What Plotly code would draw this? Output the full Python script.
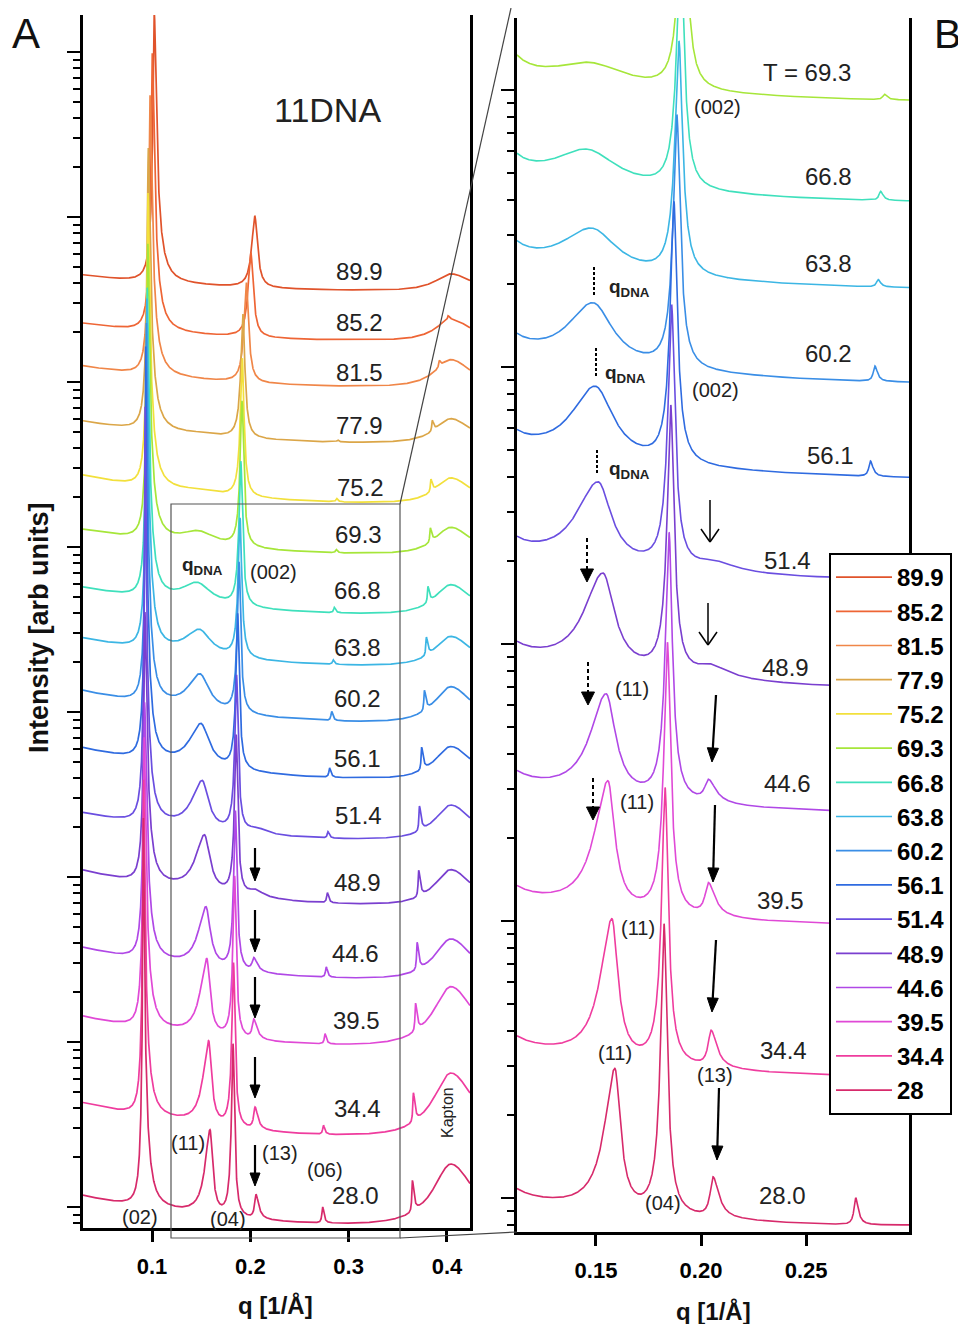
import numpy as np
import plotly.graph_objects as go

# page body has an 8px margin: the figure is placed at (8, 8) in the window
OFF = 8
W, H = 958, 1316
def px(x):
    return (x - OFF) / W
def py(y):
    return 1 - (y - OFF) / H

# ---------------- data ----------------
temps = ["89.9", "85.2", "81.5", "77.9", "75.2", "69.3", "66.8", "63.8",
         "60.2", "56.1", "51.4", "48.9", "44.6", "39.5", "34.4", "28.0"]
legend_names = ["89.9", "85.2", "81.5", "77.9", "75.2", "69.3", "66.8", "63.8",
                "60.2", "56.1", "51.4", "48.9", "44.6", "39.5", "34.4", "28"]
colors = ["#e0532b", "#ee6535", "#f08648", "#dba648", "#f2e03c", "#a6e63a",
          "#3fe0bc", "#3cb6e4", "#3a8ee6", "#2f6be0", "#6a4ee0", "#7a3fcf",
          "#b048e6", "#e049d6", "#ef3c9e", "#d72a6b"]
# log10 of the flat baseline level near q = 0.30
baseline_log = [5.558, 5.255, 4.976, 4.636, 4.273, 3.964, 3.600, 3.287,
                2.946, 2.602, 2.234, 1.840, 1.390, 0.988, 0.440, -0.097]
# excess scattering at low q (relative to baseline)
lowq_excess = [0.28, 0.32, 0.40, 0.42, 0.56, 0.48, 0.54, 0.56,
               0.67, 0.65, 0.54, 0.75, 0.67, 0.63, 0.75, 0.63]
# lamellar (002)/(04) position; (001)/(02) = half, (003)/(06) = 1.5x, (004) = 2x
q_002 = [0.2045, 0.2005, 0.1960, 0.1925, 0.1918, 0.1915, 0.1903, 0.1895,
         0.1885, 0.1871, 0.1860, 0.1856, 0.1848, 0.1840, 0.1829, 0.1824]
amp_001 = [50, 56, 60, 63, 79, 79, 100, 178, 282, 447, 447, 63, 50, 79, 158, 316]
amp_002 = [1.85, 2.45, 3.37, 5.2, 6.84, 7.8, 7.8, 7.2, 8.9, 9.6, 9.4, 10.4,
           10.1, 10.4, 11.2, 12.4]
amp_003 = [0, 0, 0, 0.03, 0.05, 0.05, 0.085, 0.07, 0.15, 0.15, 0.10, 0.17,
           0.17, 0.17, 0.15, 0.28]
amp_004 = [0, 0.08, 0.14, 0.20, 0.24, 0.28, 0.32, 0.36, 0.42, 0.46, 0.50,
           0.54, 0.58, 0.64, 0.68, 0.72]
# q_DNA / (11) peak
q_11 = [0.150, 0.150, 0.150, 0.148, 0.147, 0.147, 0.1457, 0.148,
        0.1486, 0.1496, 0.151, 0.1533, 0.1548, 0.1557, 0.1576, 0.159]
amp_11 = [0, 0, 0, 0.03, 0.05, 0.25, 0.42, 0.53, 0.84, 1.06, 1.2, 1.58,
          1.69, 2.41, 2.88, 2.83]
hw_11_left = [0.02, 0.02, 0.02, 0.02, 0.02, 0.02, 0.018, 0.016,
              0.013, 0.012, 0.0107, 0.009, 0.0075, 0.006, 0.005, 0.0045]
hw_11_right = [0.02, 0.02, 0.02, 0.02, 0.02, 0.02, 0.016, 0.013,
               0.010, 0.009, 0.0065, 0.0055, 0.0045, 0.003, 0.0026, 0.0024]
# (13) peak
q_13 = [0.205, 0.205, 0.205, 0.205, 0.205, 0.205, 0.205, 0.205,
        0.205, 0.205, 0.2065, 0.2045, 0.2035, 0.2035, 0.2048, 0.2057]
amp_13 = [0, 0, 0, 0, 0, 0, 0, 0, 0, 0, 0.09, 0.12, 0.24, 0.37, 0.43, 0.47]
hw_13_left = [0.002] * 10 + [0.010, 0.007, 0.002, 0.0018, 0.0016, 0.0015]
hw_13_right = [0.004] * 10 + [0.012, 0.010, 0.004, 0.0035, 0.003, 0.003]
# Kapton window bump
amp_kapton = [0.29, 0.38, 0.51, 0.45, 0.48, 0.51, 0.58, 0.58, 0.74, 0.66,
              0.70, 0.74, 0.86, 1.45, 1.63, 1.51]
q_kapton = 0.404

# peak tail constants (amp * hw^2) and shared widths
TAIL_001 = (2.5e-5, 7e-5)
TAIL_002 = (1.5e-5, 1.2e-5)
HW_003 = (0.0009, 0.0014)
HW_004 = (0.0006, 0.0016)
HW_KAPTON = (0.018, 0.024)
LOWQ_DECAY = 0.12


def lor(q, q0, amp, gl, gr):
    g = np.where(q < q0, gl, gr)
    return amp / (1.0 + ((q - q0) / g) ** 2)


def profile(q, i):
    p = 1.0 + lowq_excess[i] * np.exp(-(q - 0.03) / LOWQ_DECAY)
    q1 = q_002[i] / 2
    a1 = amp_001[i]
    p = p + lor(q, q1, a1, np.sqrt(TAIL_001[0] / a1), np.sqrt(TAIL_001[1] / a1))
    a2 = amp_002[i]
    p = p + lor(q, 2 * q1, a2, np.sqrt(TAIL_002[0] / a2), np.sqrt(TAIL_002[1] / a2))
    p = p + lor(q, 3 * q1, amp_003[i], *HW_003)
    p = p + lor(q, 4 * q1, amp_004[i], *HW_004)
    p = p + lor(q, q_11[i], amp_11[i], hw_11_left[i], hw_11_right[i])
    p = p + lor(q, q_13[i], amp_13[i], hw_13_left[i], hw_13_right[i])
    p = p + lor(q, q_kapton, amp_kapton[i], *HW_KAPTON)
    return p


def curve(q, i):
    ref = profile(np.array([0.30]), i)[0]
    return 10 ** baseline_log[i] * profile(q, i) / ref


def grid(lo, hi, n, i):
    q1 = q_002[i] / 2
    centers = [q1, 2 * q1, 3 * q1, 4 * q1, q_11[i], q_13[i]]
    return np.union1d(np.linspace(lo, hi, n), [c for c in centers if lo < c < hi])

XA = (0.0298, 0.4234)
XB = (0.1124, 0.2990)

fig = go.Figure()
for i in range(len(temps)):
    qa = grid(XA[0], XA[1], 5000, i)
    fig.add_trace(go.Scatter(x=qa, y=curve(qa, i), mode="lines",
                             line=dict(color=colors[i], width=1.7),
                             name=legend_names[i], xaxis="x", yaxis="y",
                             showlegend=True))
for i in range(5, len(temps)):
    qb = grid(XB[0], XB[1], 4000, i)
    fig.add_trace(go.Scatter(x=qb, y=curve(qb, i), mode="lines",
                             line=dict(color=colors[i], width=1.6),
                             name=legend_names[i], xaxis="x2", yaxis="y2",
                             showlegend=False))

FONT = "Arial, Liberation Sans, Helvetica, sans-serif"
axis_common = dict(showgrid=False, zeroline=False, showline=True, linecolor="black",
                   linewidth=2.5, ticks="outside", tickcolor="black")

fig.update_layout(
    width=W, height=H, margin=dict(l=0, r=0, t=0, b=0),
    paper_bgcolor="white", plot_bgcolor="white",
    font=dict(family=FONT, color="black"),
    xaxis=dict(domain=[px(83), px(470)], range=list(XA), anchor="y",
               tickvals=[0.1, 0.2, 0.3, 0.4], ticktext=["0.1", "0.2", "0.3", "0.4"],
               ticklen=11, tickwidth=2.5, mirror=False,
               tickfont=dict(size=22, weight="bold"), ticklabelstandoff=6,
               **axis_common),
    yaxis=dict(domain=[py(1228), py(15)], type="log", range=[-0.127, 7.224],
               anchor="x", dtick=1, ticklen=13, tickwidth=2.2, showticklabels=False,
               mirror=True,
               minor=dict(ticks="outside", ticklen=7, tickwidth=1.6, tickcolor="black",
                          showgrid=False),
               **axis_common),
    xaxis2=dict(domain=[px(517), px(909)], range=list(XB), anchor="y2",
                tickvals=[0.15, 0.2, 0.25], ticktext=["0.15", "0.20", "0.25"],
                ticklen=11, tickwidth=2.5, mirror=False,
                tickfont=dict(size=22, weight="bold"), ticklabelstandoff=6,
                **axis_common),
    yaxis2=dict(domain=[py(1232), py(18)], type="log", range=[-0.1227, 4.26],
                anchor="x2", dtick=1, ticklen=13, tickwidth=2.2, showticklabels=False,
                mirror=True,
                minor=dict(ticks="outside", ticklen=7, tickwidth=1.6, tickcolor="black",
                           showgrid=False),
                **axis_common),
    legend=dict(x=px(829), y=py(553), xanchor="left", yanchor="top",
                bgcolor="white", bordercolor="black", borderwidth=2,
                font=dict(size=24, family=FONT, color="black", weight="bold"),
                itemwidth=56, tracegroupgap=0),
)

ann = []
def text(x, y, s, size=24, color="#222", xanchor="center", bold=False, angle=0):
    ann.append(dict(x=px(x), y=py(y), xref="paper", yref="paper", text=s,
                    showarrow=False, xanchor=xanchor, yanchor="middle",
                    textangle=angle,
                    font=dict(size=size, color=color, family=FONT,
                              weight="bold" if bold else "normal")))

# panel letters, titles
text(26, 34, "A", size=42, color="#111")
text(947, 34, "B", size=41, color="#111")
text(327, 110, "11DNA", size=34, color="#222")
text(39, 628, "Intensity [arb units]", size=27, color="#111", bold=True, angle=-90)
text(275, 1305, "q [1/Å]", size=24, color="#111", bold=True)
text(713, 1311, "q [1/Å]", size=24, color="#111", bold=True)

# panel A temperature labels
a_lab = [(359, 272), (359, 322), (359, 372), (359, 425), (360, 487), (358, 535),
         (357, 590), (357, 647), (357, 698), (357, 758), (358, 815), (357, 882),
         (355, 953), (356, 1020), (357, 1108), (355, 1195)]
for t, (x, y) in zip(temps, a_lab):
    text(x, y, t, size=24)

text(202, 566, "<b>q<sub>DNA</sub></b>", size=19)
text(273, 572, "(002)", size=20)
text(188, 1143, "(11)", size=20)
text(280, 1153, "(13)", size=20)
text(325, 1170, "(06)", size=20)
text(140, 1217, "(02)", size=20)
text(228, 1219, "(04)", size=20)
text(447, 1113, "Kapton", size=16, angle=-90)

# panel B labels
text(807, 72, "T = 69.3", size=24)
text(717, 107, "(002)", size=20)
text(715, 390, "(002)", size=20)
b_lab = [("66.8", 828, 177), ("63.8", 828, 263), ("60.2", 828, 353), ("56.1", 830, 455),
         ("51.4", 787, 560), ("48.9", 785, 667), ("44.6", 787, 783), ("39.5", 780, 900),
         ("34.4", 783, 1050), ("28.0", 782, 1195)]
for t, x, y in b_lab:
    text(x, y, t, size=24)
for (x, y) in [(632, 689), (637, 802), (638, 928), (615, 1053)]:
    text(x, y, "(11)", size=20)
text(715, 1075, "(13)", size=20)
text(663, 1203, "(04)", size=20)
for (x, y) in [(607, 288), (603, 374), (607, 470)]:
    text(x, y, "<b>q<sub>DNA</sub></b>", size=19, xanchor="left")

shapes = []
def seg(x0, y0, x1, y1, width=1.2, color="#444", dash="solid"):
    shapes.append(dict(type="line", xref="paper", yref="paper", x0=px(x0), y0=py(y0),
                       x1=px(x1), y1=py(y1), line=dict(color=color, width=width, dash=dash)))

def tri(p1, p2, p3):
    shapes.append(dict(type="path", xref="paper", yref="paper",
                       path="M {:.5f},{:.5f} L {:.5f},{:.5f} L {:.5f},{:.5f} Z".format(
                           px(p1[0]), py(p1[1]), px(p2[0]), py(p2[1]), px(p3[0]), py(p3[1])),
                       fillcolor="black", line=dict(color="black", width=1)))

def arrow(xt, yt, xp, yp, kind="filled", dash="solid", width=2.2, hl=12.0, hw=5.5):
    d = np.array([xp - xt, yp - yt], dtype=float)
    d = d / np.hypot(*d)
    n = np.array([-d[1], d[0]])
    tip = np.array([xp, yp], dtype=float)
    base = tip - hl * d
    if kind == "filled":
        seg(xt, yt, base[0], base[1], width=width, color="black", dash=dash)
        tri(tip, base + hw * n, base - hw * n)
    else:
        seg(xt, yt, xp, yp, width=width, color="black")
        for s in (1, -1):
            w = base + s * hw * n
            seg(w[0], w[1], xp, yp, width=width, color="black")

# zoom rectangle + connector lines
shapes.append(dict(type="rect", xref="paper", yref="paper", x0=px(171), x1=px(400),
                   y0=py(1238), y1=py(504), line=dict(color="#555", width=1.2)))
seg(400, 504, 511, 8)
seg(400, 1238, 517, 1232)

# panel A arrows
for (yt, yp) in [(848, 881), (910, 952), (977, 1018), (1057, 1098), (1145, 1186)]:
    arrow(255, yt, 255, yp, hl=13, hw=5)
# panel B open-head arrows
arrow(710, 500, 710, 542, kind="open", width=1.5, hl=13, hw=9)
arrow(708, 603, 708, 645, kind="open", width=1.5, hl=13, hw=9)
# panel B filled slanted arrows
for (xt, yt, xp, yp) in [(716, 695, 712, 762), (715, 805, 713, 882),
                         (716, 940, 712, 1012), (719, 1088, 717, 1160)]:
    arrow(xt, yt, xp, yp, hl=14, hw=5.5)
# q_DNA dashed markers
for (x, y0, y1) in [(594, 267, 295), (596, 348, 376), (597, 450, 474)]:
    seg(x, y0, x, y1, width=2, color="black", dash="3px,2px")
# dashed arrows with triangular heads
for (x, y0, y1) in [(587, 538, 582), (588, 662, 705), (593, 778, 820)]:
    arrow(x, y0, x, y1, dash="4px,3px", width=2, hl=13, hw=6.5)

fig.update_layout(annotations=ann, shapes=shapes)
fig.write_html("out.html")
